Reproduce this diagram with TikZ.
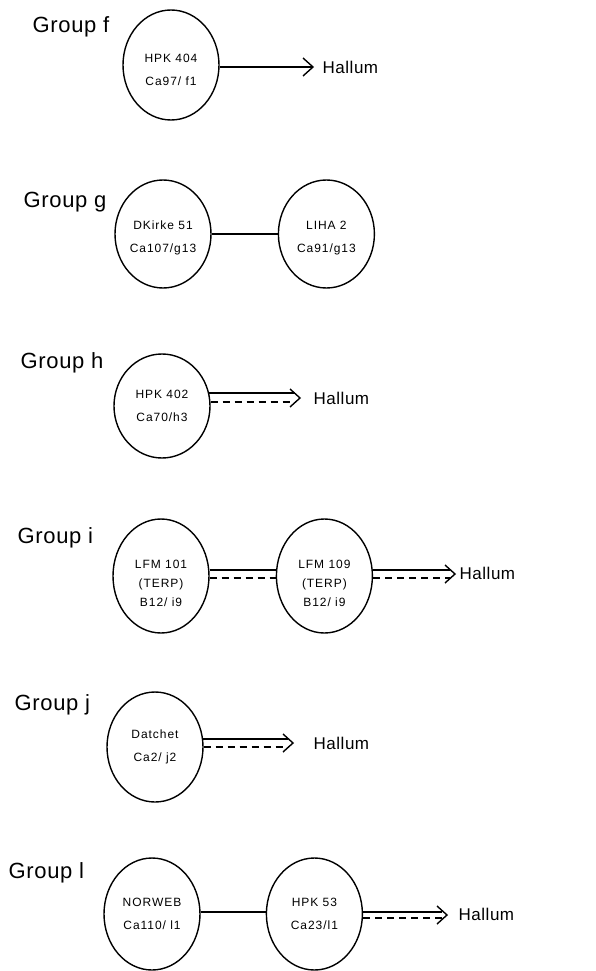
\documentclass[tikz,border=0pt]{standalone}
\usepackage{fontspec}
\setmainfont{Liberation Sans}
\newfontfamily\sitefont{Liberation Sans}[LetterSpace=8]
\newfontfamily\grpfont{Liberation Sans}[LetterSpace=3]
\newcommand\lowr[1]{\rule{0pt}{#1}}
\usetikzlibrary{positioning, calc, shapes.geometric}

\begin{document}
\begin{tikzpicture}[x=1pt, y=-1pt, line width=1.4pt,
  site/.style = {ellipse, draw, minimum width=96pt, minimum height=110pt,
    inner sep=0pt, align=center, font=\sitefont\fontsize{12}{23}\selectfont},
  grp/.style = {anchor=west, inner sep=0pt, font=\grpfont\fontsize{22}{26}\selectfont},
  dest/.style = {anchor=west, inner sep=0pt, font=\grpfont\fontsize{17}{20}\selectfont},
  feed/.style = {dash pattern=on 7pt off 5pt}]
\useasboundingbox (0,0) rectangle (596,971);

% group f
\node[grp] (Gf) at (32,27) {Group f};
\node[site] (f1) at (171,65) {\lowr{18pt}HPK 404\\Ca97/ f1};
\coordinate (ftip) at (313,67);
\node[dest] (Hf) at (322,67) {Hallum};
\draw (f1.east |- ftip) -- (ftip);
\draw ($(ftip)+(-10,-9)$) -- (ftip) -- ($(ftip)+(-10,9)$);

% group g
\node[grp] (Gg) at (23,202) {Group g};
\node[site, minimum height=108pt] (g1) at (163,234) {\lowr{16pt}DKirke 51\\Ca107/g13};
\node[site, minimum height=108pt] (g2) [right = 66pt of g1] {\lowr{16pt}LIHA 2\\Ca91/g13};
\draw (g1) -- (g2);

% group h
\node[grp] (Gh) at (20,363) {Group h};
\node[site, minimum height=104pt] (h1) at (162,406) {HPK 402\\Ca70/h3};
\coordinate (htip) at (300,398);
\node[dest] (Hh) at (313,398) {Hallum};
\draw ($(h1.east |- htip)+(-1.5,-5)$) -- ($(htip)+(-5,-5)$);
\draw[feed] ($(h1.east |- htip)+(0,4)$) -- ($(htip)+(-5,4)$);
\draw ($(htip)+(-10,-9)$) -- (htip) -- ($(htip)+(-10,9)$);

% group i
\node[grp] (Gi) at (17,538) {Group i};
\node[site, minimum height=114pt, font=\sitefont\fontsize{12}{19}\selectfont]
  (i1) at (161,576) {\lowr{24pt}LFM 101\\(TERP)\\B12/ i9};
\node[site, minimum height=114pt, font=\sitefont\fontsize{12}{19}\selectfont]
  (i2) [right = 66pt of i1] {\lowr{24pt}LFM 109\\(TERP)\\B12/ i9};
\coordinate (itip) at (455,574);
\node[dest] (Hi) at (459,573) {Hallum};
\draw ($(i1.east)+(0,-6)$) -- ($(i2.west)+(0,-6)$);
\draw[feed] ($(i1.east)+(0,2)$) -- ($(i2.west)+(0,2)$);
\draw ($(i2.east)+(0,-6)$) -- ($(itip)+(-5,-4)$);
\draw[feed] ($(i2.east)+(0,2)$) -- ($(itip)+(-5,4)$);
\draw ($(itip)+(-10,-9)$) -- (itip) -- ($(itip)+(-10,9)$);

% group j
\node[grp] (Gj) at (14,705) {Group j};
\node[site] (j1) at (155,747) {Datchet\\Ca2/ j2};
\coordinate (jtip) at (293,743);
\node[dest] (Hj) at (313,743) {Hallum};
\draw ($(j1.east)+(-0.5,-8)$) -- ($(jtip)+(-5,-4)$);
\draw[feed] (j1.east) -- ($(jtip)+(-5,4)$);
\draw ($(jtip)+(-10,-9)$) -- (jtip) -- ($(jtip)+(-10,9)$);

% group l
\node[grp] (Gl) at (8,873) {Group l};
\node[site, minimum height=112pt] (l1) at (152,914) {NORWEB\\Ca110/ l1};
\node[site, minimum height=112pt] (l2) [right = 65pt of l1] {HPK 53\\Ca23/l1};
\coordinate (ltip) at (447,915);
\node[dest] (Hl) at (458,914) {Hallum};
\draw ($(l1.east)+(0,-2)$) -- ($(l2.west)+(0,-2)$);
\draw ($(l2.east)+(0,-2)$) -- ($(ltip)+(-5,-3)$);
\draw[feed] ($(l2.east)+(0,4)$) -- ($(ltip)+(-5,3)$);
\draw ($(ltip)+(-10,-9)$) -- (ltip) -- ($(ltip)+(-10,9)$);
\end{tikzpicture}
\end{document}
